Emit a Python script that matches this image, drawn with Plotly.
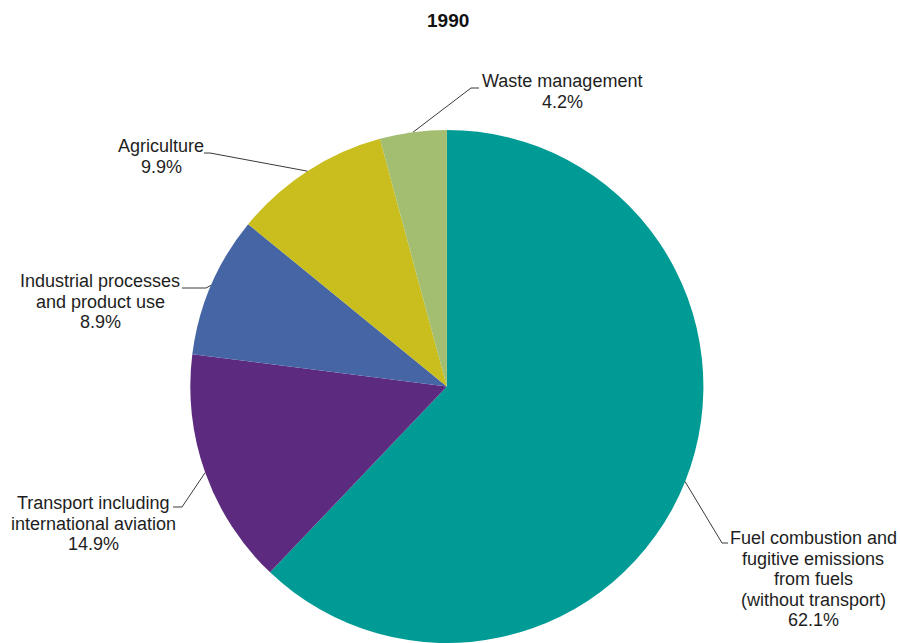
import math
import plotly.graph_objects as go

# Greenhouse gas emissions by source sector, 1990 (share of total, %)
categories = [
    "Fuel combustion and fugitive emissions from fuels (without transport)",
    "Transport including international aviation",
    "Industrial processes and product use",
    "Agriculture",
    "Waste management",
]
label_lines = [
    ["Fuel combustion and", "fugitive emissions", "from fuels", "(without transport)"],
    ["Transport including", "international aviation"],
    ["Industrial processes", "and product use"],
    ["Agriculture"],
    ["Waste management"],
]
shares = [62.1, 14.9, 8.9, 9.9, 4.2]
colors = ["#009b95", "#5c2a7e", "#4565a5", "#c9be1e", "#a3be70"]

W, H = 900, 643
dom_x = [0.193, 0.8]
dom_y = [0.0, 0.798]

# Label placement (pixels): leader elbow, leader end, text centre x, first text line y
label_pos = [
    dict(elbow=(722, 543), end=(728, 543), cx=813, y0=538),
    dict(elbow=(182, 507), end=(173, 507), cx=93, y0=503),
    dict(elbow=(206, 288), end=(182, 288), cx=100, y0=281),
    dict(elbow=(210, 153), end=(204, 153), cx=161, y0=146),
    dict(elbow=(471, 88), end=(479, 88), cx=562, y0=81),
]
LINE_STEP = 20.5
FONT = "Liberation Sans, Arial, sans-serif"
TEXT_COLOR = "#1e1e1e"


def px(x):
    return x / W


def py(y):
    return 1 - y / H


fig = go.Figure(
    go.Pie(
        labels=categories,
        values=shares,
        sort=False,
        direction="clockwise",
        rotation=0,
        marker=dict(colors=colors, line=dict(width=0)),
        textinfo="none",
        hoverinfo="label+percent",
        domain=dict(x=dom_x, y=dom_y),
        showlegend=False,
    )
)

# pie geometry in pixels, as plotly lays it out from the domain
cx = (dom_x[0] + dom_x[1]) / 2 * W
cy = (1 - (dom_y[0] + dom_y[1]) / 2) * H
r = min((dom_x[1] - dom_x[0]) * W, (dom_y[1] - dom_y[0]) * H) / 2

total = sum(shares)
shapes = []
annotations = []
cum = 0.0
for lines, val, pos in zip(label_lines, shares, label_pos):
    mid = (cum + val / 2) / total * 2 * math.pi
    cum += val
    sx = cx + r * math.sin(mid)
    sy = cy - r * math.cos(mid)
    ex, ey = pos["elbow"]
    tx, ty = pos["end"]
    shapes.append(
        dict(
            type="path",
            xref="paper",
            yref="paper",
            path=f"M {px(sx)},{py(sy)} L {px(ex)},{py(ey)} L {px(tx)},{py(ty)}",
            line=dict(color="#3a3a3a", width=1),
        )
    )
    text_lines = lines + [f"{val:.1f}%"]
    for i, t in enumerate(text_lines):
        annotations.append(
            dict(
                text=t,
                x=px(pos["cx"]),
                y=py(pos["y0"] + i * LINE_STEP),
                xref="paper",
                yref="paper",
                xanchor="center",
                yanchor="middle",
                showarrow=False,
                font=dict(family=FONT, size=18, color=TEXT_COLOR),
            )
        )

annotations.append(
    dict(
        text="<b>1990</b>",
        x=px(448),
        y=py(21),
        xref="paper",
        yref="paper",
        xanchor="center",
        yanchor="middle",
        showarrow=False,
        font=dict(family=FONT, size=19, color="#111111"),
    )
)

fig.update_layout(
    width=W,
    height=H,
    margin=dict(l=0, r=0, t=0, b=0),
    paper_bgcolor="white",
    plot_bgcolor="white",
    shapes=shapes,
    annotations=annotations,
)

fig.write_html("out.html")
